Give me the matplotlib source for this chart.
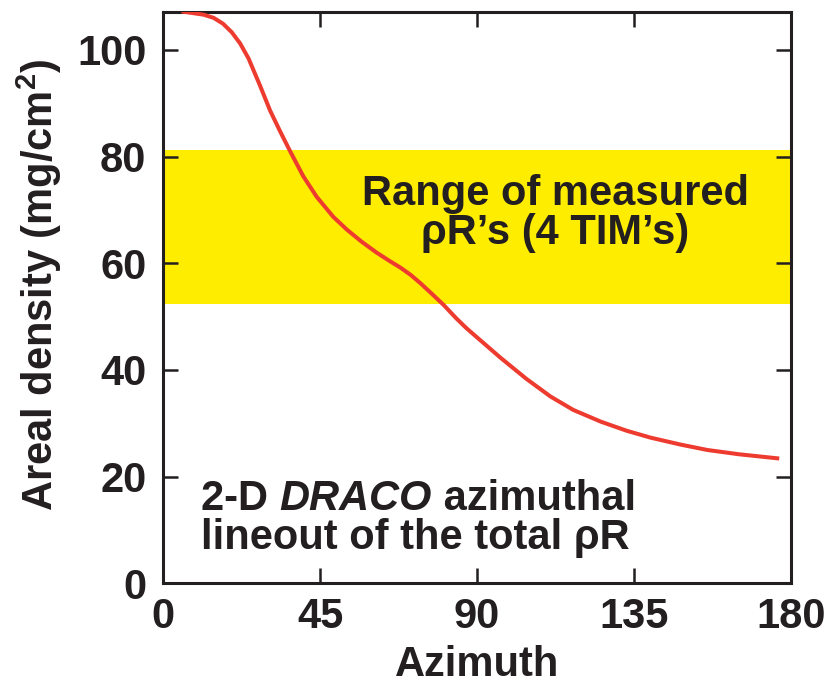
import matplotlib
matplotlib.use("Agg")
import matplotlib.pyplot as plt

plt.rcParams['font.family'] = ['Liberation Sans', 'DejaVu Sans']
plt.rcParams['font.weight'] = 'bold'
plt.rcParams['mathtext.fontset'] = 'custom'
plt.rcParams['mathtext.rm'] = 'Liberation Sans:bold'
plt.rcParams['mathtext.bf'] = 'Liberation Sans:bold'

INK = "#231F20"
RED = "#EE3B2F"
YELLOW = "#FFED00"

# DRACO lineout
azimuth = [5.3, 11.6, 14.5, 17.2, 19.7, 22.1, 24.5, 27.8, 30.7, 33.5, 36.5,
           40.2, 44.1, 48.8, 52.7, 57.0, 61.2, 65.0, 68.0, 71.0, 73.7, 77.0,
           80.4, 84.0, 87.0, 96.7, 104.2, 111.1, 117.6, 125.5, 132.9, 139.8,
           148.4, 156.0, 165.0, 176.6]
areal_density = [107.2, 106.6, 106.0, 104.9, 103.3, 101.2, 98.4, 93.3, 88.6,
                 84.8, 80.9, 76.3, 72.4, 68.7, 66.3, 64.0, 62.0, 60.4, 59.2,
                 57.8, 56.3, 54.3, 52.2, 49.7, 47.8, 42.3, 38.3, 35.0, 32.5,
                 30.3, 28.6, 27.3, 26.0, 25.0, 24.2, 23.4]

measured_low = 52.3
measured_high = 81.2

x_ticks = [0, 45, 90, 135, 180]
y_ticks = [0, 20, 40, 60, 80, 100]

FS = 30

fig = plt.figure(figsize=(8.33, 6.92), dpi=100)
ax = fig.add_axes([0.1957, 0.157, 0.754, 0.8257])

ax.axhspan(measured_low, measured_high, color=YELLOW, lw=0, zorder=0)
ax.plot(azimuth, areal_density, color=RED, lw=2.9, zorder=3,
        solid_capstyle='butt', solid_joinstyle='round')

ax.set_xlim(0, 180)
ax.set_ylim(0, 107.1)
ax.set_xticks(x_ticks)
ax.set_yticks(y_ticks)
ax.tick_params(direction='in', length=10.8, width=1.8, color=INK,
               top=True, right=True, labelsize=FS, labelcolor=INK)
ax.tick_params(axis='x', pad=9.5)
ax.tick_params(axis='y', pad=12)
for lbl in ax.get_xticklabels() + ax.get_yticklabels():
    lbl.set_fontweight('bold')
for sp in ax.spines.values():
    sp.set_linewidth(2.2)
    sp.set_color(INK)

ax.set_xlabel("Azimuth", fontsize=FS, fontweight='bold', color=INK,
              labelpad=6)
ax.set_ylabel(r"Areal density (mg/cm$^{\mathbf{2}}$)", fontsize=FS,
              fontweight='bold', color=INK)
ax.yaxis.set_label_coords(-0.157, 0.522)

ax.text(112.4, 70.9, "Range of measured", fontsize=FS, fontweight='bold',
        color=INK, ha='center', va='baseline', zorder=4)
ax.text(112.4, 63.7, "\u03c1R\u2019s (4 TIM\u2019s)", fontsize=FS,
        fontweight='bold', color=INK, ha='center', va='baseline', zorder=4)

# first line mixes upright and italic, so chain three pieces
inv = ax.transData.inverted()
t1 = ax.text(10.9, 13.8, "2-D ", fontsize=FS, fontweight='bold', color=INK,
             ha='left', va='baseline')
fig.canvas.draw()
x2 = inv.transform((t1.get_window_extent().x1, 0))[0]
t2 = ax.text(x2, 13.8, "DRACO", fontsize=FS, fontweight='bold',
             style='italic', color=INK, ha='left', va='baseline')
fig.canvas.draw()
x3 = inv.transform((t2.get_window_extent().x1, 0))[0]
ax.text(x3, 13.8, " azimuthal", fontsize=FS, fontweight='bold', color=INK,
        ha='left', va='baseline')
ax.text(10.9, 6.4, "lineout of the total \u03c1R", fontsize=FS,
        fontweight='bold', color=INK, ha='left', va='baseline')

fig.savefig("out.png", dpi=100)
